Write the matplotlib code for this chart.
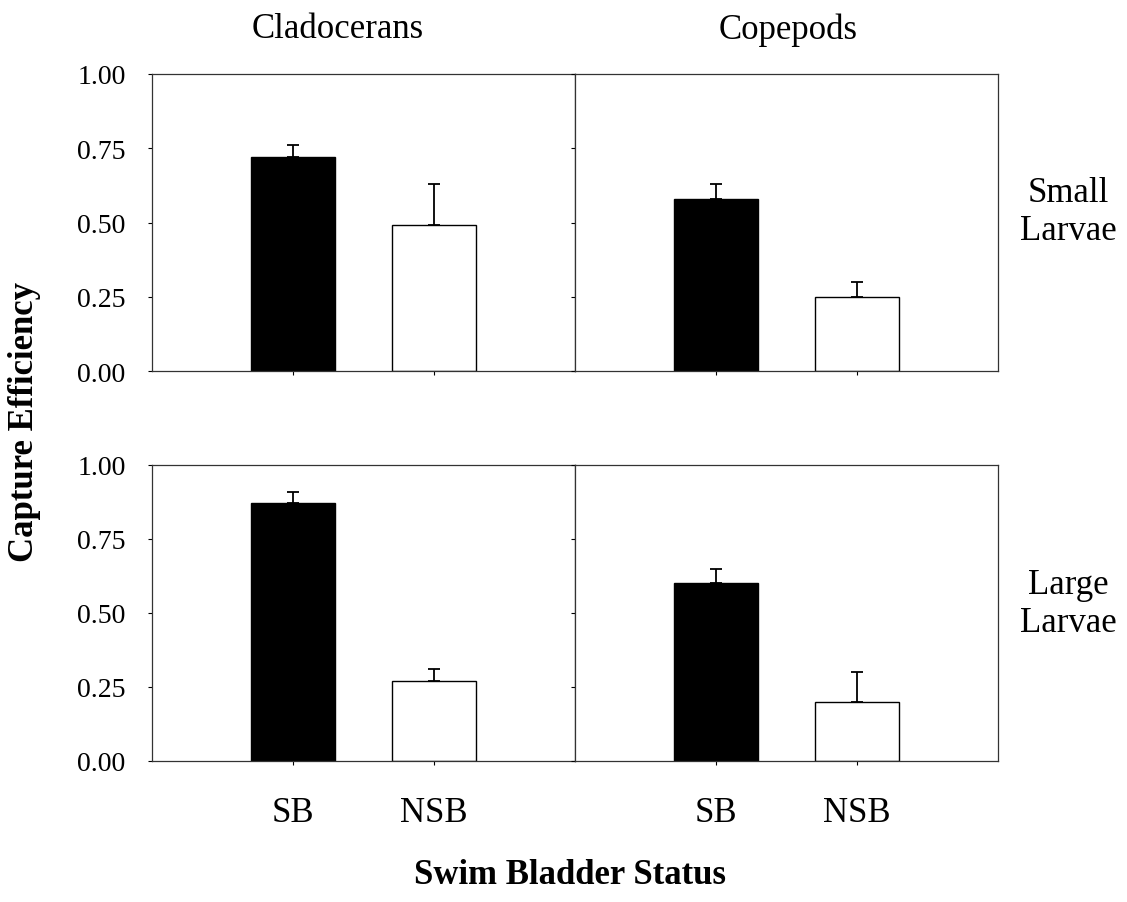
import numpy as np
import matplotlib
matplotlib.use('Agg')
import matplotlib.pyplot as plt

plt.rcParams['font.family'] = ['Liberation Serif', 'DejaVu Serif']

# Data
status = ['SB', 'NSB']
prey = ['Cladocerans', 'Copepods']
sizes = ['Small\nLarvae', 'Large\nLarvae']

# capture efficiency per (larval size, prey type): [SB, NSB]
means = {
    ('Small', 'Cladocerans'): [0.72, 0.49],
    ('Small', 'Copepods'): [0.58, 0.25],
    ('Large', 'Cladocerans'): [0.87, 0.27],
    ('Large', 'Copepods'): [0.60, 0.20],
}
errors = {
    ('Small', 'Cladocerans'): [0.04, 0.14],
    ('Small', 'Copepods'): [0.05, 0.05],
    ('Large', 'Cladocerans'): [0.04, 0.04],
    ('Large', 'Copepods'): [0.05, 0.10],
}
yticks = [0.00, 0.25, 0.50, 0.75, 1.00]

W, H = 1127, 903
fig = plt.figure(figsize=(W / 100, H / 100), dpi=100)

x_left, x_mid, x_right = 152 / W, 575 / W, 998 / W
rows = [(75, 372), (466, 762)]
size_keys = ['Small', 'Large']

for r, (top, bot) in enumerate(rows):
    for c, p in enumerate(prey):
        x0 = x_left if c == 0 else x_mid
        ax = fig.add_axes([x0, 1 - bot / H, x_mid - x_left, (bot - top) / H])
        key = (size_keys[r], p)
        pos = np.array([1, 2])
        ax.bar(pos, means[key], width=0.6, color=['black', 'white'],
               edgecolor='black', linewidth=1.0, zorder=2)
        ax.errorbar(pos, means[key], yerr=[[0, 0], errors[key]], fmt='none',
                    ecolor='black', elinewidth=1.3, capsize=4, capthick=1.3, zorder=1)
        ax.set_xlim(0, 3)
        ax.set_ylim(0, 1)
        ax.set_yticks(yticks)
        ax.set_xticks(pos)
        ax.tick_params(direction='out', length=3, width=0.8, colors='black')
        if c == 0:
            ax.set_yticklabels([f'{v:.2f}' for v in yticks], fontsize=20)
            ax.tick_params(axis='y', pad=16)
        else:
            ax.set_yticklabels([])
        if r == 1:
            ax.set_xticklabels(status, fontsize=25)
            ax.tick_params(axis='x', pad=22)
        else:
            ax.set_xticklabels([])
        for s in ax.spines.values():
            s.set_linewidth(0.9)
            s.set_color('#333333')

fig.text(338 / W, 1 - 30 / H, 'Cladocerans', fontsize=25, ha='center', va='center')
fig.text(788 / W, 1 - 30 / H, 'Copepods', fontsize=25, ha='center', va='center')
fig.text(1068 / W, 1 - 213 / H, sizes[0], fontsize=25, ha='center', va='center',
         linespacing=1.2)
fig.text(1068 / W, 1 - 605 / H, sizes[1], fontsize=25, ha='center', va='center',
         linespacing=1.2)
fig.text(25 / W, 1 - 422 / H, 'Capture Efficiency', fontsize=25, fontweight='bold',
         rotation=90, ha='center', va='center')
fig.text(570 / W, 1 - 876 / H, 'Swim Bladder Status', fontsize=25, fontweight='bold',
         ha='center', va='center')

fig.savefig('out.png', dpi=100)
